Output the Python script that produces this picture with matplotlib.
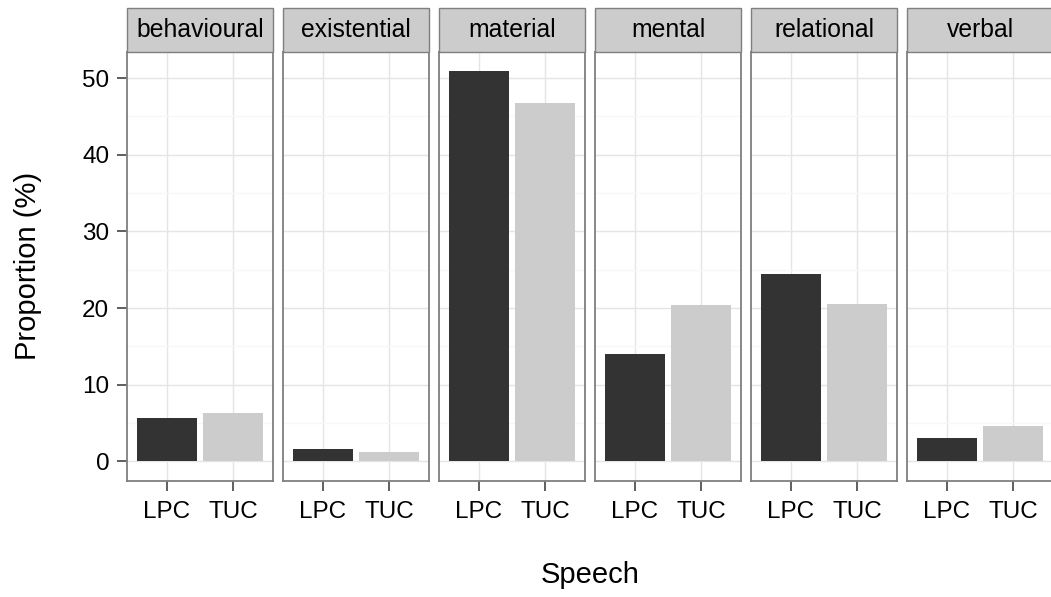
import numpy as np
import matplotlib
matplotlib.use("Agg")
import matplotlib.pyplot as plt
from matplotlib.patches import Rectangle
from matplotlib.ticker import MultipleLocator

plt.rcParams['font.family'] = ['Liberation Sans', 'DejaVu Sans']

# data
process_types = ['behavioural', 'existential', 'material', 'mental', 'relational', 'verbal']
speeches = ['LPC', 'TUC']
lpc_values = [5.7, 1.58, 50.9, 14.07, 24.45, 3.12]
tuc_values = [6.35, 1.19, 46.8, 20.45, 20.58, 4.57]

bar_colors = ['#333333', '#cccccc']

W, H = 1051, 597
fig = plt.figure(figsize=(W / 100, H / 100), dpi=100)

# panel geometry in pixels
left0 = 126.7
panel_w = 146.6
step = 156.0
panel_top = 51.7
panel_bottom = 481.0
strip_top = 8.3
strip_h = (panel_top - strip_top) / (panel_bottom - panel_top)

ymax = max(max(lpc_values), max(tuc_values))
ylo = -0.05 * ymax
yhi = ymax * 1.05

axes = []
for i, name in enumerate(process_types):
    x0 = (left0 + i * step) / W
    ax = fig.add_axes([x0, 1 - panel_bottom / H, panel_w / W, (panel_bottom - panel_top) / H])
    vals = [lpc_values[i], tuc_values[i]]
    ax.bar([1, 2], vals, width=0.9, color=bar_colors, zorder=3)

    ax.set_xlim(0.4, 2.6)
    ax.set_ylim(ylo, yhi)
    ax.set_xticks([1, 2])
    ax.set_xticklabels(speeches)
    ax.yaxis.set_major_locator(MultipleLocator(10))
    ax.yaxis.set_minor_locator(MultipleLocator(5))

    ax.grid(which='major', color='#e5e5e5', linewidth=1.0, zorder=0)
    ax.grid(which='minor', axis='y', color='#f7f7f7', linewidth=1.0, zorder=0)
    ax.set_axisbelow(True)

    for sp in ax.spines.values():
        sp.set_color('#7f7f7f')
        sp.set_linewidth(1.3)

    ax.tick_params(which='major', length=7.5, width=1.1, color='#333333',
                   labelsize=17.5, pad=5.0, labelcolor='black')
    ax.tick_params(axis='x', pad=7.0)
    ax.tick_params(which='minor', length=0)
    if i > 0:
        ax.tick_params(axis='y', left=False, labelleft=False)

    # facet strip
    strip = Rectangle((0, 1), 1, strip_h, transform=ax.transAxes, clip_on=False,
                      facecolor='#cccccc', edgecolor='#7f7f7f', linewidth=1.0, zorder=5)
    ax.add_patch(strip)
    ax.text(0.5, 1 + strip_h / 2, name, transform=ax.transAxes, ha='center', va='center',
            fontsize=17.8, color='black', zorder=6)
    axes.append(ax)

fig.text((left0 + (left0 + 5 * step + panel_w)) / 2 / W, 1 - 583.3 / H, 'Speech',
         ha='center', va='baseline', fontsize=21)
fig.text(28.5 / W, 1 - (panel_top + panel_bottom) / 2 / H, 'Proportion (%)',
         rotation=90, ha='center', va='center', fontsize=21)

plt.savefig("out.png", dpi=100)
